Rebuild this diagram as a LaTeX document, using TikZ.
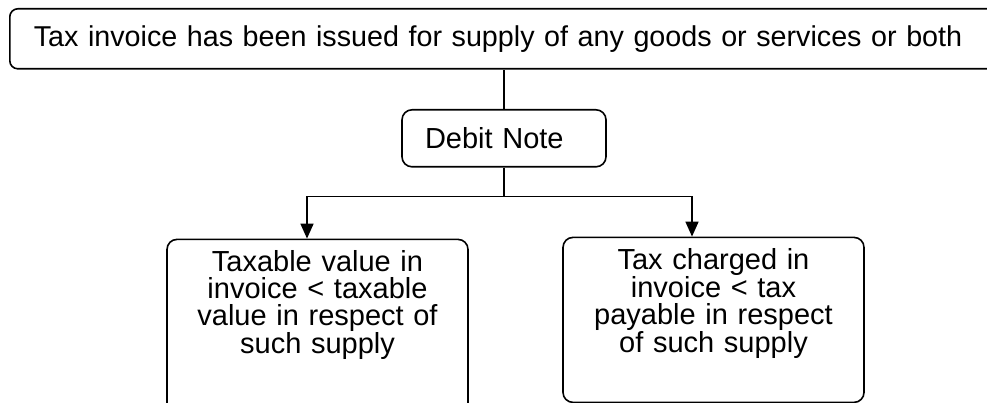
\documentclass[tikz,border=0pt]{standalone}
\usepackage{fontspec}
\setmainfont{Liberation Sans}
\usepackage{tikz}
\usetikzlibrary{positioning,arrows.meta}

\begin{document}
\begin{tikzpicture}[
    x=1pt, y=-1pt,
    font=\fontsize{29}{27}\selectfont,
    invoice/.style={rectangle, rounded corners=8pt, draw=black, line width=1.6pt, align=left, text width=970pt, inner xsep=24pt, minimum height=60pt, font=\fontsize{28.7}{27}\selectfont},
    note/.style={rectangle, rounded corners=10pt, draw=black, line width=1.6pt, align=left, text width=158pt, inner xsep=23pt, minimum height=57pt},
    condition/.style={rectangle, rounded corners=10pt, draw=black, line width=1.6pt, align=center, text width=260pt, inner ysep=8pt, text height=24pt, minimum width=301pt},
    arrow/.style={-{Triangle[length=15pt, width=13pt]}, line width=1.6pt},
]
\useasboundingbox (0,0) rectangle (987,403);

% Invoice issued
\node (invoice) [invoice, anchor=north west] at (9,8) {Tax invoice has been issued for supply of any goods or services or both};

% Debit note
\node (debit) [note, anchor=north] at (504,109) {Debit Note};

% Conditions
\node (taxable) [condition, text depth=144pt, below=71pt of debit.south, xshift=-186.5pt] {Taxable value in\\invoice < taxable\\value in respect of\\such supply};
\node (charged) [condition, text depth=125pt, below=69pt of debit.south, xshift=209.5pt] {Tax charged in\\invoice < tax\\payable in respect\\of such supply};

% Connectors
\draw[line width=1.6pt] (debit.north) -- (debit.north |- invoice.south);
\coordinate (fork) at ([yshift=-29pt]debit.south);
\draw[line width=1.6pt] (debit.south) -- (fork);
\draw[arrow] (fork) -| ([xshift=-10.5pt]taxable.north);
\draw[arrow] (fork) -| ([xshift=-21.5pt]charged.north);

\end{tikzpicture}
\end{document}
